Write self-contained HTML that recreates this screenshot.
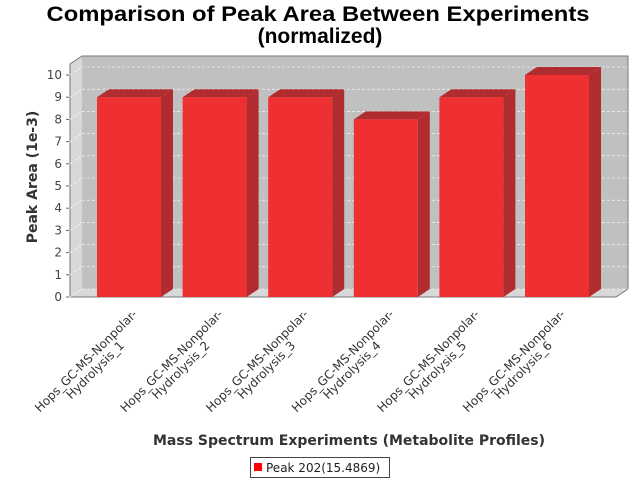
<!DOCTYPE html>
<html><head><meta charset="utf-8"><style>body{margin:0;background:#fff}svg{display:block;font-family:"DejaVu Sans","Liberation Sans",sans-serif}</style></head>
<body>
<svg id="chart" width="640" height="480" viewBox="0 0 640 480">
<rect width="640" height="480" fill="#fff"/>
<text x="318" y="21" text-anchor="middle" font-family="Liberation Sans, sans-serif" font-weight="bold" font-size="21" textLength="543" lengthAdjust="spacingAndGlyphs">Comparison of Peak Area Between Experiments</text>
<text x="320" y="43" text-anchor="middle" font-family="Liberation Sans, sans-serif" font-weight="bold" font-size="21">(normalized)</text>
<g id="plot"></g>
<text transform="translate(37,177) rotate(-90)" text-anchor="middle" font-weight="bold" font-size="14" fill="#333">Peak Area (1e-3)</text>
<text x="349" y="445" text-anchor="middle" font-weight="bold" font-size="14" fill="#333">Mass Spectrum Experiments (Metabolite Profiles)</text>
<g>
<rect x="250.5" y="457.5" width="139" height="20" fill="#fff" stroke="#444"/>
<rect x="254" y="463" width="8" height="8" fill="#f00"/>
<text x="266" y="472" font-size="12" fill="#222">Peak 202(15.4869)</text>
</g>
</svg>
<script>
const categories = ["Hops_GC-MS-Nonpolar-Hydrolysis_1","Hops_GC-MS-Nonpolar-Hydrolysis_2","Hops_GC-MS-Nonpolar-Hydrolysis_3","Hops_GC-MS-Nonpolar-Hydrolysis_4","Hops_GC-MS-Nonpolar-Hydrolysis_5","Hops_GC-MS-Nonpolar-Hydrolysis_6"];
const values = [9, 9, 9, 8, 9, 10];
const yTicks = [0,1,2,3,4,5,6,7,8,9,10];
const NS='http://www.w3.org/2000/svg';
const g=document.getElementById('plot');
const L=70,R=616,B=297,DX=12,DY=8,TOP=64;
const yMax=10.45;
function y(v){return B-(v/10)*222;}
function mk(t,a,p){const e=document.createElementNS(NS,t);for(const k in a)e.setAttribute(k,a[k]);(p||g).appendChild(e);return e;}
// walls
let e;
e=mk('polygon',{points:`${L},${B} ${L},${TOP} ${L+DX},${TOP-DY} ${L+DX},${B-DY}`,fill:'#d8d8d8'});

e=mk('polygon',{points:`${L},${B} ${L+DX},${B-DY} ${R+DX},${B-DY} ${R},${B}`,fill:'#d8d8d8'});

e=mk('rect',{x:L+DX,y:TOP-DY,width:R-L,height:B-TOP,fill:'#c0c0c0'});

mk('polyline',{points:`${L},${B} ${L},${TOP} ${L+DX},${TOP-DY} ${R+DX},${TOP-DY} ${R+DX},${B-DY} ${R},${B} ${L},${B}`,fill:'none',stroke:'#777'});
// grid and ticks
yTicks.forEach(t=>{
  const yy=y(t);
  e=mk('line',{x1:L+DX,x2:R+DX,y1:yy-DY,y2:yy-DY,stroke:'#fff','stroke-dasharray':'3,2','stroke-width':0.6});
  
  mk('line',{x1:L,x2:L+DX,y1:yy,y2:yy-DY,stroke:'#fff','stroke-dasharray':'3,2','stroke-width':0.6});
  mk('line',{x1:L-4,x2:L-1,y1:yy,y2:yy,stroke:'#666'});
  e=mk('text',{x:L-8,y:yy+4,'text-anchor':'end','font-size':12,fill:'#444'});
  e.textContent=t;
  
});
// bars
const n=categories.length,bw=64,m=27,gap=(R-L-2*m-n*bw)/(n-1);
categories.forEach((c,i)=>{
  const x0=L+m+i*(bw+gap),yt=y(values[i]);
  const bg=mk('g',{});
  
  mk('polygon',{points:`${x0+bw},${B} ${x0+bw},${yt} ${x0+bw+DX},${yt-DY} ${x0+bw+DX},${B-DY}`,fill:'#b02c2f'},bg);
  mk('polygon',{points:`${x0},${yt} ${x0+DX},${yt-DY} ${x0+bw+DX},${yt-DY} ${x0+bw},${yt}`,fill:'#b02c2f'},bg);
  mk('rect',{x:x0,y:yt,width:bw,height:B-yt,fill:'#ef3033'},bg);
  const cx=x0+bw/2;
  const lg=mk('g',{transform:`translate(${cx-43},361) rotate(-45)`,'font-size':12,fill:'#333','text-anchor':'middle'});
  
  const k=c.indexOf('Hydrolysis');
  const t1=mk('text',{x:0,y:4},lg);t1.textContent=c.slice(0,k);
  const t2=mk('text',{x:0,y:17},lg);t2.textContent=c.slice(k);
});
</script>
</body></html>
